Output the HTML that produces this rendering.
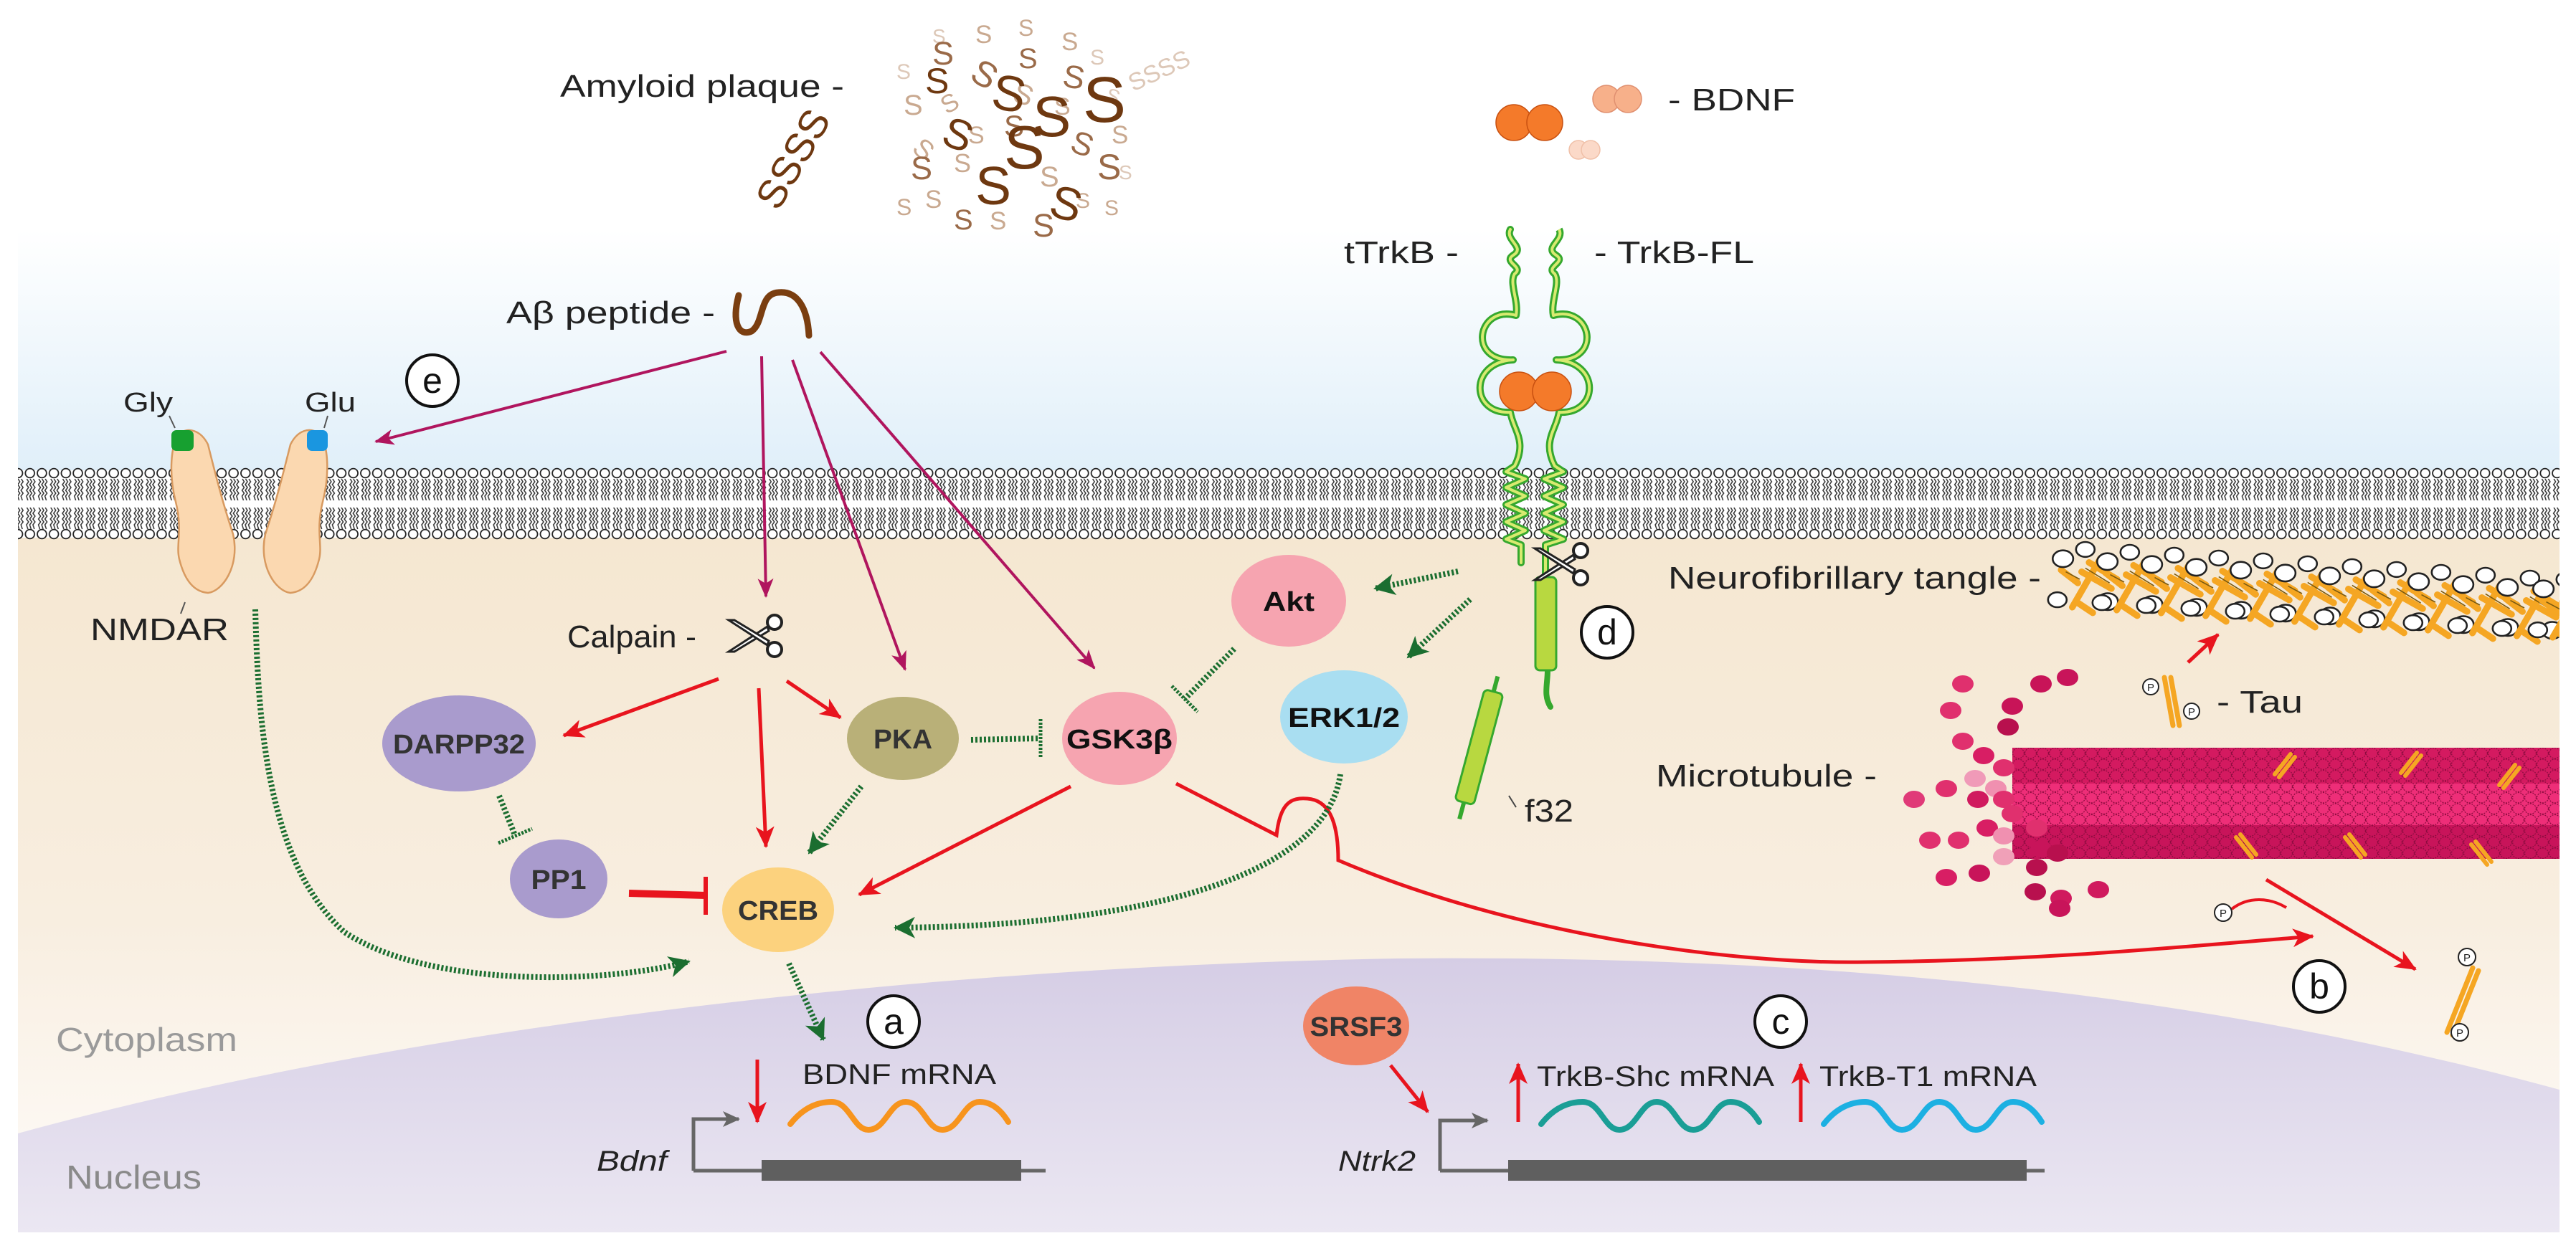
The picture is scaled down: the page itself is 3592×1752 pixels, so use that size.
<!DOCTYPE html>
<html><head><meta charset="utf-8"><style>
html,body{margin:0;padding:0;background:#fff;}
svg{display:block;}
text{font-family:"Liberation Sans",Arial,sans-serif;}
</style></head><body>
<svg xmlns="http://www.w3.org/2000/svg" width="3592" height="1752" viewBox="0 0 3592 1752">
<defs>
<linearGradient id="sky" x1="0" y1="0" x2="0" y2="1">
<stop offset="0" stop-color="#ffffff"/><stop offset="1" stop-color="#e0eff9"/></linearGradient>
<linearGradient id="cyto" x1="0" y1="0" x2="0" y2="1">
<stop offset="0" stop-color="#f5e7d1"/><stop offset="0.55" stop-color="#f8eee0"/><stop offset="1" stop-color="#fefcfa"/></linearGradient>
<linearGradient id="nuc" x1="0" y1="0" x2="0" y2="1">
<stop offset="0" stop-color="#d5cde5"/><stop offset="1" stop-color="#ebe7f2"/></linearGradient>
<pattern id="lip" patternUnits="userSpaceOnUse" x="0" y="652" width="16.7" height="101">
<path d="M4,16 L6.5,20 L3.5,24 L6.5,28 L3.5,32 L6.5,36 L3.5,40 L5.5,46 M8.5,16 L11,20 L8,24 L11,28 L8,32 L11,36 L8,40 L10,46 M13,16 L15.5,20 L12.5,24 L15.5,28 L12.5,32 L15.5,36 L12.5,40 L14.5,46 M4,56 L6.5,60 L3.5,64 L6.5,68 L3.5,72 L6.5,76 L3.5,80 L5.5,86 M8.5,56 L11,60 L8,64 L11,68 L8,72 L11,76 L8,80 L10,86 M13,56 L15.5,60 L12.5,64 L15.5,68 L12.5,72 L15.5,76 L12.5,80 L14.5,86" fill="none" stroke="#333" stroke-width="1.5"/>
<circle cx="8.35" cy="8" r="6.4" fill="#fff" stroke="#222" stroke-width="1.8"/>
<circle cx="8.35" cy="93" r="6.4" fill="#fff" stroke="#222" stroke-width="1.8"/>
</pattern>
<pattern id="mt" patternUnits="userSpaceOnUse" x="2806" y="1043" width="17" height="15.5">
<ellipse cx="8.5" cy="7.7" rx="8" ry="7.2" fill="none" stroke="#8e0c40" stroke-width="1.3" stroke-dasharray="2 1.5"/>
</pattern>
<marker id="ar" markerUnits="userSpaceOnUse" markerWidth="32" markerHeight="26" refX="28" refY="13" orient="auto"><path d="M0,0 L30,13 L0,26 L8,13 Z" fill="#e8141e"/></marker>
<marker id="mg" markerUnits="userSpaceOnUse" markerWidth="28" markerHeight="22" refX="25" refY="11" orient="auto"><path d="M0,0 L27,11 L0,22 L7,11 Z" fill="#b0155e"/></marker>
<marker id="gr" markerUnits="userSpaceOnUse" markerWidth="32" markerHeight="30" refX="28" refY="15" orient="auto"><path d="M0,0 L30,15 L0,30 L8,15 Z" fill="#1b6e30"/></marker>
<marker id="gy" markerUnits="userSpaceOnUse" markerWidth="26" markerHeight="22" refX="22" refY="11" orient="auto"><path d="M0,0 L24,11 L0,22 L6,11 Z" fill="#666"/></marker>
<g id="sc">
<path d="M58,20 L4,55 L12,55 L60,26 Z" fill="#fff" stroke="#222" stroke-width="3"/>
<path d="M58,46 L4,11 L12,11 L60,40 Z" fill="#fff" stroke="#222" stroke-width="3"/>
<circle cx="68" cy="14" r="10" fill="#fff" stroke="#222" stroke-width="4"/>
<circle cx="68" cy="52" r="10" fill="#fff" stroke="#222" stroke-width="4"/>
</g>
<g id="tg">
<path d="M-8,30 L22,-22 M2,-8 L34,10 M10,-18 L40,0 M-2,4 L-20,-10 M-4,24 L14,36" stroke="#f5a623" stroke-width="7" fill="none" stroke-linecap="round"/>
<path d="M6,-12 L32,4 M0,0 L-15,-8" stroke="#7a5a10" stroke-width="1.2" fill="none"/>
<ellipse cx="-18" cy="-22" rx="11" ry="9" fill="#fff" stroke="#222" stroke-width="2"/>
<ellipse cx="30" cy="24" rx="11" ry="9" fill="#fff" stroke="#222" stroke-width="2"/>
<ellipse cx="-24" cy="22" rx="10" ry="8" fill="#fff" stroke="#222" stroke-width="2"/>
<ellipse cx="6" cy="-32" rx="10" ry="8" fill="#fff" stroke="#222" stroke-width="2"/>
</g>
<g id="tv"><path d="M0,0 L22,-28 M6,4 L28,-24" stroke="#f5a623" stroke-width="6" stroke-linecap="round" fill="none"/></g>
</defs>

<rect x="0" y="0" width="3592" height="1752" fill="#fff"/>
<rect x="25" y="321" width="3544" height="335" fill="url(#sky)"/>
<rect x="25" y="750" width="3544" height="969" fill="url(#cyto)"/>
<path d="M25,1581 C500,1450 1200,1350 1950,1337 C2700,1330 3200,1420 3569,1520 L3569,1719 L25,1719 Z" fill="url(#nuc)"/>
<rect x="25" y="652" width="3544" height="101" fill="url(#lip)"/>
<rect x="25" y="698" width="3544" height="4" fill="#fff" opacity="0.85"/>

<!-- plaque -->
<g font-family="Liberation Serif, serif">
<g fill="#ddc8b8">
<text x="1520" y="90" font-size="30">S</text><text x="1540" y="140" font-size="28" transform="rotate(20 1540 140)">S</text><text x="1250" y="110" font-size="30">S</text>
<text x="1580" y="128" font-size="34" transform="rotate(-25 1580 128)">SSSS</text>
<text x="1300" y="60" font-size="28">S</text><text x="1560" y="250" font-size="28">S</text>
</g>
<g fill="#c9a990">
<text x="1260" y="160" font-size="40">S</text><text x="1320" y="160" font-size="35" transform="rotate(-30 1320 160)">S</text><text x="1410" y="140" font-size="40" transform="rotate(20 1410 140)">S</text><text x="1480" y="70" font-size="35">S</text><text x="1550" y="200" font-size="35">S</text><text x="1290" y="290" font-size="35">S</text><text x="1380" y="320" font-size="35">S</text><text x="1500" y="290" font-size="30">S</text><text x="1360" y="60" font-size="35">S</text><text x="1450" y="260" font-size="40">S</text><text x="1270" y="210" font-size="38" transform="rotate(40 1270 210)">S</text><text x="1540" y="300" font-size="30">S</text><text x="1330" y="240" font-size="36">S</text>
<text x="1420" y="50" font-size="32">S</text><text x="1250" y="300" font-size="32">S</text><text x="1470" y="160" font-size="34">S</text><text x="1350" y="200" font-size="34">S</text>
</g>
<g fill="#9a6a48">
<text x="1300" y="90" font-size="45">S</text><text x="1350" y="110" font-size="50" transform="rotate(30 1350 110)">S</text><text x="1420" y="95" font-size="40">S</text><text x="1480" y="120" font-size="45" transform="rotate(10 1480 120)">S</text><text x="1530" y="250" font-size="50">S</text><text x="1270" y="250" font-size="45">S</text><text x="1330" y="320" font-size="40">S</text><text x="1440" y="330" font-size="45">S</text><text x="1490" y="210" font-size="45" transform="rotate(20 1490 210)">S</text><text x="1400" y="190" font-size="42">S</text>
</g>
<g fill="#6e3810">
<text x="1380" y="150" font-size="70" transform="rotate(10 1380 150)">S</text><text x="1440" y="190" font-size="80">S</text><text x="1310" y="200" font-size="60" transform="rotate(20 1310 200)">S</text><text x="1510" y="170" font-size="90">S</text><text x="1360" y="285" font-size="75">S</text><text x="1460" y="300" font-size="65" transform="rotate(15 1460 300)">S</text><text x="1400" y="235" font-size="85">S</text><text x="1290" y="130" font-size="50">S</text>
</g>
<text x="1085" y="296" font-size="56" fill="#6e3810" transform="rotate(-60 1085 296)">SSSS</text>
</g>

<!-- BDNF -->
<g stroke="#c85010" stroke-width="1.5">
<circle cx="2111" cy="171" r="25" fill="#f47a2a"/><circle cx="2154" cy="171" r="25" fill="#f47a2a"/>
<circle cx="2240" cy="138" r="19" fill="#f7b08a" stroke="#e09070"/><circle cx="2270" cy="138" r="19" fill="#f7b08a" stroke="#e09070"/>
<circle cx="2201" cy="209" r="13" fill="#fbd9c8" stroke="#f0c0a8"/><circle cx="2218" cy="209" r="13" fill="#fbd9c8" stroke="#f0c0a8"/>
</g>

<!-- TrkB receptor -->
<g fill="none" stroke-linejoin="round" stroke-linecap="round">
<path d="M2106,320 C2098,335 2128,345 2110,356 C2095,366 2126,372 2112,382 C2104,395 2118,420 2114,440 C2060,425 2045,505 2110,502 C2048,505 2050,578 2106,575 C2110,600 2130,615 2112,650 L2100,658 L2127,668 L2100,680 L2127,692 L2100,704 L2127,716 L2100,728 L2127,740 L2100,752 L2121,760 L2121,785" stroke="#35a82e" stroke-width="10"/>
<path d="M2106,320 C2098,335 2128,345 2110,356 C2095,366 2126,372 2112,382 C2104,395 2118,420 2114,440 C2060,425 2045,505 2110,502 C2048,505 2050,578 2106,575 C2110,600 2130,615 2112,650 L2100,658 L2127,668 L2100,680 L2127,692 L2100,704 L2127,716 L2100,728 L2127,740 L2100,752 L2121,760 L2121,785" stroke="#d8ea70" stroke-width="4"/>
</g>
<g transform="translate(4280,0) scale(-1,1)">
<path d="M2106,320 C2098,335 2128,345 2110,356 C2095,366 2126,372 2112,382 C2104,395 2118,420 2114,440 C2060,425 2045,505 2110,502 C2048,505 2050,578 2106,575 C2110,600 2130,615 2112,650 L2100,658 L2127,668 L2100,680 L2127,692 L2100,704 L2127,716 L2100,728 L2127,740 L2100,752 L2125,760 L2125,805" fill="none" stroke="#35a82e" stroke-width="10" stroke-linejoin="round"/>
<path d="M2106,320 C2098,335 2128,345 2110,356 C2095,366 2126,372 2112,382 C2104,395 2118,420 2114,440 C2060,425 2045,505 2110,502 C2048,505 2050,578 2106,575 C2110,600 2130,615 2112,650 L2100,658 L2127,668 L2100,680 L2127,692 L2100,704 L2127,716 L2100,728 L2127,740 L2100,752 L2125,760 L2125,805" fill="none" stroke="#d8ea70" stroke-width="4" stroke-linejoin="round"/>
</g>
<path d="M2158,935 C2158,955 2152,970 2162,986" fill="none" stroke="#35a82e" stroke-width="8" stroke-linecap="round"/>
<rect x="2141" y="805" width="29" height="130" rx="6" fill="#b8d840" stroke="#35a82e" stroke-width="3"/>
<circle cx="2118" cy="546" r="27" fill="#f47a2a" stroke="#c85010" stroke-width="1.5"/>
<circle cx="2164" cy="546" r="27" fill="#f47a2a" stroke="#c85010" stroke-width="1.5"/>
<use href="#sc" transform="translate(2136,754)"/>
<g transform="rotate(15 2062 1042)">
<rect x="2049" y="962" width="27" height="160" rx="6" fill="#b8d840" stroke="#35a82e" stroke-width="3"/>
<path d="M2062,962 L2062,940 M2062,1122 L2062,1146" stroke="#35a82e" stroke-width="6"/>
</g>
<path d="M2104,1110 L2114,1126" stroke="#444" stroke-width="2"/>

<!-- NMDAR -->
<path d="M250,605 C262,595 280,600 290,620 C300,660 310,700 325,745 C335,790 310,825 290,827 C265,825 255,800 250,780 C245,760 255,740 245,700 C235,660 238,620 250,605 Z" fill="#fbd8b0" stroke="#d89a60" stroke-width="2.5"/>
<path d="M445,605 C432,595 415,600 405,620 C395,660 385,700 370,745 C360,790 385,825 405,827 C430,825 440,800 445,780 C450,760 440,740 450,700 C460,660 458,620 445,605 Z" fill="#fbd8b0" stroke="#d89a60" stroke-width="2.5"/>
<rect x="239" y="600" width="31" height="29" rx="7" fill="#17a030"/>
<rect x="428" y="600" width="29" height="29" rx="7" fill="#1a96e0"/>
<path d="M236,580 L244,597 M457,580 L452,597 M258,840 L252,856" stroke="#555" stroke-width="2"/>

<path d="M1030,412 C1020,450 1030,470 1048,462 C1066,450 1058,410 1085,408 C1112,405 1126,430 1128,468" fill="none" stroke="#7a3e10" stroke-width="9" stroke-linecap="round"/>

<g stroke="#b0155e" stroke-width="4" fill="none" marker-end="url(#mg)">
<path d="M1013,490 L524,616"/>
<path d="M1062,497 L1068,832"/>
<path d="M1105,502 L1262,934"/>
<path d="M1144,491 L1526,932"/>
</g>

<use href="#sc" transform="translate(1012,854)"/>

<g stroke="#e8141e" stroke-width="5" fill="none" marker-end="url(#ar)">
<path d="M1002,947 L786,1026"/>
<path d="M1097,950 L1172,1001"/>
<path d="M1058,960 L1068,1181"/>
<path d="M1493,1097 L1198,1248"/>
<path d="M1640,1093 L1780,1165 C1785,1120 1800,1112 1823,1114 C1850,1116 1866,1140 1866,1200 C2100,1300 2400,1345 2600,1342 C2850,1340 3050,1320 3225,1306"/>
<path d="M1939,1486 L1991,1551"/>
<path d="M1056,1478 L1056,1565"/>
<path d="M2117,1565 L2117,1484"/>
<path d="M2511,1565 L2511,1484"/>
<path d="M3051,924 L3093,885"/>
<path d="M3160,1227 L3368,1352"/>
</g>
<path d="M3112,1268 C3135,1250 3165,1252 3188,1266" stroke="#e8141e" stroke-width="4" fill="none"/>
<path d="M877,1246 L984,1249" stroke="#e8141e" stroke-width="10"/>
<path d="M984,1223 L984,1276" stroke="#e8141e" stroke-width="6"/>

<g stroke="#1b6e30" stroke-width="8" fill="none" stroke-dasharray="3 3" marker-end="url(#gr)">
<path d="M1201,1097 L1128,1190"/>
<path d="M1869,1080 C1850,1220 1600,1292 1248,1294"/>
<path d="M356,850 C360,1000 370,1200 480,1300 C600,1380 850,1372 961,1341"/>
<path d="M1100,1344 L1148,1450"/>
<path d="M2033,797 L1917,821"/>
<path d="M2050,836 L1963,917"/>
</g>
<g stroke="#1b6e30" stroke-width="8" fill="none" stroke-dasharray="3 3">
<path d="M1354,1032 L1449,1030"/>
<path d="M696,1110 L718,1165"/>
<path d="M1721,905 L1652,975"/>
</g>
<g stroke="#1b6e30" stroke-width="5" fill="none" stroke-dasharray="3 2">
<path d="M1451,1003 L1451,1058"/>
<path d="M695,1176 L742,1156"/>
<path d="M1634,957 L1670,993"/>
</g>

<ellipse cx="640" cy="1037" rx="107" ry="67" fill="#a99bcd"/>
<ellipse cx="1259" cy="1030" rx="78" ry="58" fill="#b9b078"/>
<ellipse cx="1561" cy="1030" rx="80" ry="65" fill="#f6a4b0"/>
<ellipse cx="1797" cy="838" rx="80" ry="64" fill="#f6a4b0"/>
<ellipse cx="1874" cy="1000" rx="89" ry="65" fill="#a9def1"/>
<ellipse cx="779" cy="1226" rx="68" ry="55" fill="#a99bcd"/>
<ellipse cx="1085" cy="1269" rx="78" ry="59" fill="#fcd27e"/>
<ellipse cx="1891" cy="1431" rx="74" ry="55" fill="#f08466"/>
<g font-weight="bold" font-size="38" text-anchor="middle">
<text x="640" y="1051" fill="#333" textLength="184" lengthAdjust="spacingAndGlyphs">DARPP32</text>
<text x="1259" y="1044" fill="#333" textLength="82" lengthAdjust="spacingAndGlyphs">PKA</text>
<text x="1561" y="1044" fill="#111" textLength="148" lengthAdjust="spacingAndGlyphs">GSK3β</text>
<text x="1797" y="852" fill="#111" textLength="72" lengthAdjust="spacingAndGlyphs">Akt</text>
<text x="1874" y="1014" fill="#111" textLength="156" lengthAdjust="spacingAndGlyphs">ERK1/2</text>
<text x="779" y="1240" fill="#333" textLength="77" lengthAdjust="spacingAndGlyphs">PP1</text>
<text x="1085" y="1283" fill="#333" textLength="112" lengthAdjust="spacingAndGlyphs">CREB</text>
<text x="1891" y="1445" fill="#333" textLength="129" lengthAdjust="spacingAndGlyphs">SRSF3</text>
</g>

<!-- microtubule -->
<rect x="2806" y="1043" width="763" height="50" fill="#d41a60"/>
<rect x="2806" y="1093" width="763" height="58" fill="#ee2e78"/>
<rect x="2806" y="1151" width="763" height="47" fill="#c8145a"/>
<rect x="2806" y="1043" width="763" height="155" fill="url(#mt)"/>
<g>
<ellipse cx="2737" cy="954" rx="15" ry="12" fill="#e0306e"/><ellipse cx="2806" cy="985" rx="15" ry="12" fill="#c81458"/><ellipse cx="2720" cy="991" rx="15" ry="12" fill="#e0306e"/><ellipse cx="2846" cy="954" rx="15" ry="12" fill="#c81458"/><ellipse cx="2883" cy="945" rx="15" ry="12" fill="#c8145a"/><ellipse cx="2800" cy="1014" rx="15" ry="12" fill="#b8104e"/><ellipse cx="2737" cy="1034" rx="15" ry="12" fill="#e0306e"/><ellipse cx="2766" cy="1054" rx="15" ry="12" fill="#d81e64"/><ellipse cx="2794" cy="1071" rx="15" ry="12" fill="#e0306e"/><ellipse cx="2714" cy="1100" rx="15" ry="12" fill="#e0306e"/><ellipse cx="2754" cy="1086" rx="15" ry="12" fill="#f09ab8"/><ellipse cx="2783" cy="1100" rx="15" ry="12" fill="#f090b0"/><ellipse cx="2669" cy="1115" rx="15" ry="12" fill="#e03a78"/><ellipse cx="2758" cy="1115" rx="15" ry="12" fill="#d01a5e"/><ellipse cx="2794" cy="1115" rx="15" ry="12" fill="#e0306e"/><ellipse cx="2806" cy="1135" rx="15" ry="12" fill="#e0306e"/><ellipse cx="2771" cy="1155" rx="15" ry="12" fill="#d81e64"/><ellipse cx="2691" cy="1172" rx="15" ry="12" fill="#e0306e"/><ellipse cx="2731" cy="1172" rx="15" ry="12" fill="#e0306e"/><ellipse cx="2794" cy="1166" rx="15" ry="12" fill="#f090b0"/><ellipse cx="2840" cy="1155" rx="15" ry="12" fill="#e0306e"/><ellipse cx="2794" cy="1195" rx="15" ry="12" fill="#f0a0b8"/><ellipse cx="2846" cy="1184" rx="15" ry="12" fill="#c8145a"/><ellipse cx="2869" cy="1190" rx="15" ry="12" fill="#b8104e"/><ellipse cx="2714" cy="1224" rx="15" ry="12" fill="#d81e64"/><ellipse cx="2760" cy="1218" rx="15" ry="12" fill="#c8145a"/><ellipse cx="2840" cy="1210" rx="15" ry="12" fill="#b8104e"/><ellipse cx="2838" cy="1244" rx="15" ry="12" fill="#b8104e"/><ellipse cx="2874" cy="1253" rx="15" ry="12" fill="#d01a5e"/><ellipse cx="2926" cy="1241" rx="15" ry="12" fill="#d01a5e"/><ellipse cx="2872" cy="1267" rx="15" ry="12" fill="#c8145a"/>
</g>
<use href="#tv" transform="translate(3172,1080)"/><use href="#tv" transform="translate(3348,1078)"/><use href="#tv" transform="translate(3485,1095)"/>
<use href="#tv" transform="translate(3118,1168) scale(1,-1)"/><use href="#tv" transform="translate(3270,1168) scale(1,-1)"/><use href="#tv" transform="translate(3446,1178) scale(1,-1)"/>

<!-- tangle -->
<g transform="translate(0,0)">
<use href="#tg" transform="translate(2900,808) scale(1.3)"/><use href="#tg" transform="translate(2962,812) scale(1.3)"/><use href="#tg" transform="translate(3024,816) scale(1.3)"/><use href="#tg" transform="translate(3086,820) scale(1.3)"/><use href="#tg" transform="translate(3148,824) scale(1.3)"/><use href="#tg" transform="translate(3210,828) scale(1.3)"/><use href="#tg" transform="translate(3272,832) scale(1.3)"/><use href="#tg" transform="translate(3334,836) scale(1.3)"/><use href="#tg" transform="translate(3396,840) scale(1.3)"/><use href="#tg" transform="translate(3458,844) scale(1.3)"/><use href="#tg" transform="translate(3520,848) scale(1.3)"/><use href="#tg" transform="translate(3570,850) scale(1.3)"/>
</g>
<rect x="3569" y="740" width="23" height="170" fill="#fff"/>

<!-- tau icons -->
<path d="M3018,945 L3030,1012 M3027,945 L3039,1012" stroke="#f5a623" stroke-width="7" stroke-linecap="round"/>
<path d="M3448,1350 L3412,1440 M3456,1354 L3420,1444" stroke="#f5a623" stroke-width="7" stroke-linecap="round"/>
<g fill="#fff" stroke="#222" stroke-width="2">
<circle cx="2999" cy="958" r="11"/><circle cx="3056" cy="992" r="11"/>
<circle cx="3100" cy="1273" r="12"/><circle cx="3440" cy="1335" r="12"/><circle cx="3430" cy="1440" r="12"/>
</g>
<g font-size="15" text-anchor="middle" fill="#222">
<text x="2999" y="964">P</text><text x="3056" y="998">P</text><text x="3100" y="1279">P</text><text x="3440" y="1341">P</text><text x="3430" y="1446">P</text>
</g>

<!-- genes -->
<path d="M967,1633 L967,1561 L1030,1561" fill="none" stroke="#666" stroke-width="5" marker-end="url(#gy)"/>
<path d="M967,1633 L1458,1633" stroke="#666" stroke-width="5"/>
<rect x="1062" y="1618" width="362" height="29" fill="#5f5f5f"/>
<path d="M2008,1633 L2008,1563 L2074,1563" fill="none" stroke="#666" stroke-width="5" marker-end="url(#gy)"/>
<path d="M2008,1633 L2851,1633" stroke="#666" stroke-width="5"/>
<rect x="2103" y="1618" width="723" height="29" fill="#5f5f5f"/>
<g fill="none" stroke-width="8" stroke-linecap="round">
<path d="M1102,1568 C1120,1545 1140,1537 1160,1537 C1185,1537 1190,1576 1211,1576 C1235,1576 1240,1537 1263,1537 C1288,1537 1292,1576 1314,1576 C1338,1576 1343,1537 1366,1537 C1385,1537 1398,1552 1406,1565" stroke="#f7941d"/>
<path transform="translate(1047,0)" d="M1102,1568 C1120,1545 1140,1537 1160,1537 C1185,1537 1190,1576 1211,1576 C1235,1576 1240,1537 1263,1537 C1288,1537 1292,1576 1314,1576 C1338,1576 1343,1537 1366,1537 C1385,1537 1398,1552 1406,1565" stroke="#1a9e96"/>
<path transform="translate(1441,0)" d="M1102,1568 C1120,1545 1140,1537 1160,1537 C1185,1537 1190,1576 1211,1576 C1235,1576 1240,1537 1263,1537 C1288,1537 1292,1576 1314,1576 C1338,1576 1343,1537 1366,1537 C1385,1537 1398,1552 1406,1565" stroke="#1cb0e2"/>
</g>

<g fill="#fff" stroke="#111" stroke-width="4">
<circle cx="1246" cy="1425" r="36"/><circle cx="3234" cy="1376" r="36"/><circle cx="2483" cy="1425" r="36"/><circle cx="2241" cy="882" r="36"/><circle cx="603" cy="531" r="36"/>
</g>
<g font-size="50" text-anchor="middle" fill="#111">
<text x="1246" y="1442">a</text><text x="3234" y="1393">b</text><text x="2483" y="1442">c</text><text x="2241" y="899">d</text><text x="603" y="548">e</text>
</g>

<g fill="#222" font-size="44">
<text x="781" y="135" textLength="396" lengthAdjust="spacingAndGlyphs">Amyloid plaque -</text>
<text x="706" y="451" textLength="291" lengthAdjust="spacingAndGlyphs">Aβ peptide -</text>
<text x="2326" y="154" textLength="177" lengthAdjust="spacingAndGlyphs">- BDNF</text>
<text x="1874" y="367" textLength="160" lengthAdjust="spacingAndGlyphs">tTrkB -</text>
<text x="2223" y="367" textLength="223" lengthAdjust="spacingAndGlyphs">- TrkB-FL</text>
<text x="172" y="574" font-size="38" textLength="69" lengthAdjust="spacingAndGlyphs">Gly</text>
<text x="425" y="574" font-size="38" textLength="71" lengthAdjust="spacingAndGlyphs">Glu</text>
<text x="126" y="893" textLength="193" lengthAdjust="spacingAndGlyphs">NMDAR</text>
<text x="791" y="903" textLength="180" lengthAdjust="spacingAndGlyphs">Calpain -</text>
<text x="2326" y="821" textLength="520" lengthAdjust="spacingAndGlyphs">Neurofibrillary tangle -</text>
<text x="2309" y="1097" textLength="308" lengthAdjust="spacingAndGlyphs">Microtubule -</text>
<text x="3091" y="994" textLength="120" lengthAdjust="spacingAndGlyphs">- Tau</text>
<text x="2126" y="1146" textLength="68" lengthAdjust="spacingAndGlyphs">f32</text>
<text x="1119" y="1512" font-size="40" textLength="270" lengthAdjust="spacingAndGlyphs">BDNF mRNA</text>
<text x="2143" y="1515" font-size="40" textLength="331" lengthAdjust="spacingAndGlyphs">TrkB-Shc mRNA</text>
<text x="2537" y="1515" font-size="40" textLength="303" lengthAdjust="spacingAndGlyphs">TrkB-T1 mRNA</text>
<text x="832" y="1633" font-size="40" font-style="italic" textLength="98" lengthAdjust="spacingAndGlyphs">Bdnf</text>
<text x="1866" y="1633" font-size="40" font-style="italic" textLength="108" lengthAdjust="spacingAndGlyphs">Ntrk2</text>
<text x="78" y="1466" font-size="46" fill="#9a9a9a" textLength="253" lengthAdjust="spacingAndGlyphs">Cytoplasm</text>
<text x="92" y="1658" font-size="46" fill="#8a8a8a" textLength="189" lengthAdjust="spacingAndGlyphs">Nucleus</text>
</g>
</svg>
</body></html>
